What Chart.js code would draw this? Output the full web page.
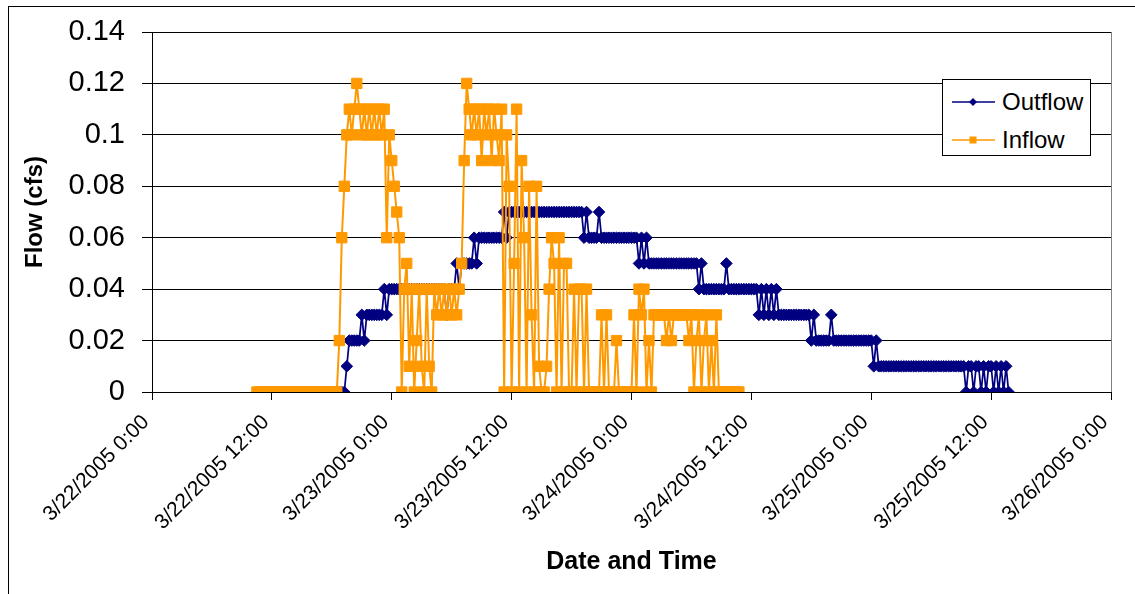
<!DOCTYPE html>
<html><head><meta charset="utf-8">
<script src="https://cdn.jsdelivr.net/npm/chart.js@4.4.0/dist/chart.umd.min.js"></script>
<style>
html,body{margin:0;padding:0;background:#fff;overflow:hidden;}
#wrap{position:relative;width:1135px;height:594px;}
#frame{position:absolute;left:8px;top:6px;width:1200px;height:700px;border:1px solid #000;pointer-events:none;}
#legend{position:absolute;left:942px;top:79px;width:147px;height:75px;border:1px solid #000;background:#fff;font-family:"Liberation Sans",Arial,sans-serif;font-size:24px;color:#000;}
.item{position:absolute;left:0;height:30px;width:147px;}
.item svg{position:absolute;left:9px;top:0;}
.item span{position:absolute;left:59px;top:0;line-height:30px;}
</style></head>
<body>
<div id="wrap">
<canvas id="c" width="1135" height="594"></canvas>
<div id="frame"></div>
<div id="legend">
  <div class="item" style="top:7px"><svg width="44" height="30"><line x1="0" y1="15" x2="43" y2="15" stroke="#000080" stroke-width="1.5"/><polygon points="21,11 25,15 21,19 17,15" fill="#000080"/></svg><span>Outflow</span></div>
  <div class="item" style="top:45px"><svg width="44" height="30"><line x1="0" y1="15" x2="43" y2="15" stroke="#FF9900" stroke-width="1.5"/><rect x="17.5" y="11.5" width="7" height="7" fill="#FF9900"/></svg><span>Inflow</span></div>
</div>
</div>
<script>
// ---- data (hours after 3/22/2005 0:00, 15-minute readings) ----
const xTickLabels = ['3/22/2005 0:00','3/22/2005 12:00','3/23/2005 0:00','3/23/2005 12:00','3/24/2005 0:00','3/24/2005 12:00','3/25/2005 0:00','3/25/2005 12:00','3/26/2005 0:00'];
const yTickLabels = ['0','0.02','0.04','0.06','0.08','0.1','0.12','0.14'];
const seriesNames = ['Outflow','Inflow'];
const stepHours = 0.25;

const outflowStartHour = 11.5;
const outflowValues = [
  0,0,
  0,0,0,0, 0,0,0,0, 0,0,0,0, 0,0,0,0, 0,0,0,0, 0,0,0,0, 0,0,0,0,
  0,0,0.01,0.02,
  0.02,0.02,0.02,0.02,
  0.03,0.02,0.03,0.03,
  0.03,0.03,0.03,0.03,
  0.03,0.04,0.03,0.04,
  0.04,0.04,0.04,0.04, 0.04,0.04,0.04,0.04, 0.04,0.04,0.04,0.04, 0.04,0.04,0.04,0.04, 0.04,0.04,0.04,0.04,
  0.04,0.04,0.03,0.04,
  0.04,0.04,0.05,0.04,
  0.05,0.05,0.05,0.05,
  0.05,0.06,0.05,0.06,
  0.06,0.06,0.06,0.06, 0.06,0.06,0.06,0.06,
  0.06,0.07,0.06,0.07,
  0.07,0.07,0.07,0.07, 0.07,0.07,0.07,0.07, 0.07,0.07,0.07,0.07, 0.07,0.07,0.07,0.07,
  0.07,0.07,0.07,0.07, 0.07,0.07,0.07,0.07, 0.07,0.07,0.07,0.07,
  0.07,0.06,0.07,0.06,
  0.06,0.06,0.06,0.07,
  0.06,0.06,0.06,0.06, 0.06,0.06,0.06,0.06, 0.06,0.06,0.06,0.06,
  0.06,0.06,0.06,0.05,
  0.06,0.05,0.06,0.05,
  0.05,0.05,0.05,0.05, 0.05,0.05,0.05,0.05, 0.05,0.05,0.05,0.05, 0.05,0.05,0.05,0.05,
  0.05,0.05,0.05,0.04,
  0.05,0.04,0.04,0.04,
  0.04,0.04,0.04,0.04,
  0.04,0.04,0.05,0.04,
  0.04,0.04,0.04,0.04, 0.04,0.04,0.04,0.04,
  0.04,0.04,0.04,0.03,
  0.04,0.03,0.04,0.03,
  0.04,0.03,0.04,0.03,
  0.03,0.03,0.03,0.03, 0.03,0.03,0.03,0.03, 0.03,0.03,0.03,0.03,
  0.02,0.03,0.02,0.02,
  0.02,0.02,0.02,0.02,
  0.03,0.02,0.02,0.02,
  0.02,0.02,0.02,0.02, 0.02,0.02,0.02,0.02, 0.02,0.02,0.02,0.02,
  0.02,0.01,0.02,0.01,
  0.01,0.01,0.01,0.01, 0.01,0.01,0.01,0.01, 0.01,0.01,0.01,0.01, 0.01,0.01,0.01,0.01,
  0.01,0.01,0.01,0.01, 0.01,0.01,0.01,0.01, 0.01,0.01,0.01,0.01, 0.01,0.01,0.01,0.01,
  0.01,0.01,0,0.01,
  0.01,0,0.01,0.01,
  0,0.01,0,0.01,
  0.01,0,0.01,0,
  0.01,0,0.01,0
];

const inflowStartHour = 10.5;
const inflowValues = [
  0,0,
  0,0,0,0, 0,0,0,0, 0,0,0,0, 0,0,0,0, 0,0,0,0, 0,0,0,0, 0,0,0,0,
  0,0,0,0.02,
  0.06,0.08,0.1,0.11,
  0.1,0.11,0.12,0.11,
  0.1,0.11,0.1,0.11,
  0.1,0.11,0.1,0.11,
  0.1,0.11,0.06,0.1,
  0.09,0.08,0.07,0.06,
  0,0.04,0.05,0.01,
  0.04,0,0.02,0.04,
  0.01,0,0.04,0.01,
  0,0.04,0.03,0.04,
  0.03,0.04,0.03,0.04,
  0.03,0.04,0.03,0.04,
  0.05,0.09,0.12,0.11,
  0.1,0.11,0.1,0.11,
  0.09,0.11,0.1,0.11,
  0.09,0.11,0.1,0.09,
  0.11,0,0.1,0.08,
  0,0.05,0.11,0,
  0.09,0.06,0,0.08,
  0.03,0,0.08,0.01,
  0,0,0.01,0.04,
  0.06,0.05,0,0.06,
  0,0.05,0.05,0,
  0,0.04,0,0.04,
  0.04,0,0.04,0,
  0,0,0,0,
  0.03,0,0.03,0,
  0,0,0.02,0,
  0,0,0,0,
  0,0.03,0,0.04,
  0.03,0.04,0,0.02,
  0,0.03,0.03,0.03,
  0.03,0.03,0.02,0.03,
  0.02,0.03,0.03,0.03,
  0.03,0.03,0.03,0.02,
  0.03,0,0.02,0.03,
  0,0.02,0.03,0,
  0.02,0,0.03,0,
  0,0,0,0,
  0,0,0,0
];

function toPoints(start, vals) {
  return vals.map((v, i) => ({ x: start + i * stepHours, y: v }));
}

const FONT = '"Liberation Sans", Arial, sans-serif';

const rightBorder = {
  id: 'rightBorder',
  afterDraw(chart) {
    const a = chart.chartArea, ctx = chart.ctx;
    ctx.save();
    ctx.strokeStyle = '#808080';
    ctx.lineWidth = 1;
    ctx.beginPath();
    ctx.moveTo(Math.round(a.right) + 0.5, a.top);
    ctx.lineTo(Math.round(a.right) + 0.5, a.bottom);
    ctx.stroke();
    ctx.restore();
  }
};

new Chart(document.getElementById('c'), {
  type: 'line',
  data: {
    datasets: [
      {
        label: seriesNames[0],
        data: toPoints(outflowStartHour, outflowValues),
        borderColor: '#000080', backgroundColor: '#000080',
        borderWidth: 1.75, tension: 0,
        pointStyle: 'rectRot', pointRadius: 5.8, pointBorderWidth: 1,
        pointBackgroundColor: '#000080', pointBorderColor: '#000080',
        order: 1
      },
      {
        label: seriesNames[1],
        data: toPoints(inflowStartHour, inflowValues),
        borderColor: '#FF9900', backgroundColor: '#FF9900',
        borderWidth: 2, tension: 0,
        pointStyle: 'rect', pointRadius: 7.3, pointBorderWidth: 1,
        pointBackgroundColor: '#FF9900', pointBorderColor: '#FF9900',
        order: 0
      }
    ]
  },
  options: {
    responsive: false,
    animation: false,
    devicePixelRatio: 1,
    layout: { padding: { left: 0, top: 32, right: 24, bottom: 0 } },
    plugins: { legend: { display: false }, tooltip: { enabled: false } },
    scales: {
      x: {
        type: 'linear', min: 0, max: 96,
        border: { display: true, color: '#000', width: 1 },
        grid: { drawOnChartArea: false, drawTicks: true, tickLength: 8, color: '#000' },
        ticks: {
          stepSize: 12, autoSkip: false, maxRotation: 45, minRotation: 45,
          padding: 10, labelOffset: -6, color: '#000', font: { family: FONT, size: 21 },
          callback: (v) => xTickLabels[Math.round(v / 12)]
        },
        title: { display: true, text: 'Date and Time', color: '#000',
          font: { family: FONT, size: 25, weight: 'bold' }, padding: { top: 0, bottom: 17 } },
        afterFit(s) { s.height = 202; s.paddingLeft = 0; s.paddingRight = 0; }
      },
      y: {
        type: 'linear', min: 0, max: 0.14,
        border: { display: true, color: '#000', width: 1 },
        grid: { drawOnChartArea: true, drawTicks: true, tickLength: 10, color: '#000', lineWidth: 1 },
        ticks: {
          stepSize: 0.02, padding: 17, color: '#000', font: { family: FONT, size: 29 },
          callback: (v) => yTickLabels[Math.round(v / 0.02)]
        },
        title: { display: true, text: 'Flow (cfs)', color: '#000',
          font: { family: FONT, size: 24, weight: 'bold' }, padding: { top: 21, bottom: 0 } },
        afterFit(s) { s.width = 152; s.paddingTop = 0; s.paddingBottom = 0; }
      }
    }
  },
  plugins: [rightBorder]
});
</script>
</body></html>
